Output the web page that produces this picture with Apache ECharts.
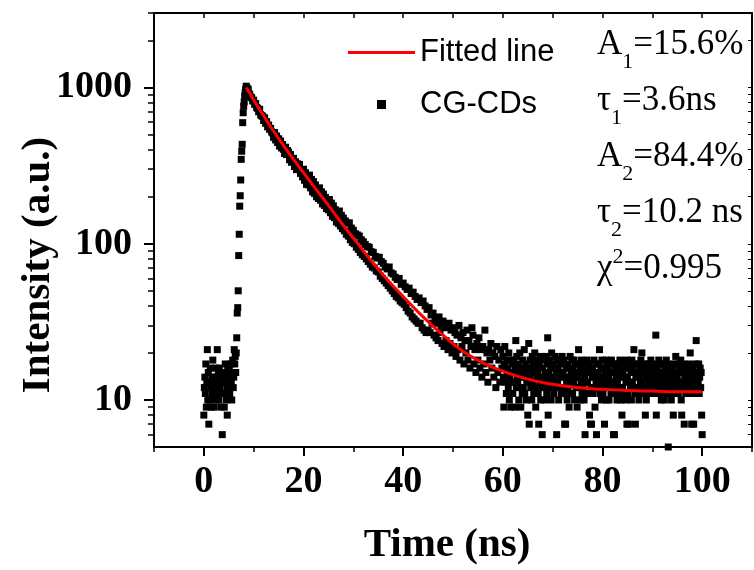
<!DOCTYPE html>
<html><head><meta charset="utf-8">
<script src="https://cdn.jsdelivr.net/npm/echarts@6/dist/echarts.min.js"></script>
<style>html,body{margin:0;padding:0;background:#fff}#c{width:754px;height:570px}</style>
</head><body><div id="c"></div>
<script>
// ---- tick labels ----
const xTickLabels = [0, 20, 40, 60, 80, 100];
const yTickLabels = [10, 100, 1000];
const yMinorTicks = [6, 7, 8, 9, 20, 30, 40, 50, 60, 70, 80, 90, 200, 300, 400, 500, 600, 700, 800, 900, 2000, 3000];
const yAllTicks = [6, 7, 8, 9, 10, 20, 30, 40, 50, 60, 70, 80, 90, 100, 200, 300, 400, 500, 600, 700, 800, 900, 1000, 2000];

// ---- measured decay (CG-CDs), counts per channel ----
const baselineStart = 0.0, baselineStep = 0.1;
const baselineCounts = [
  8, 12, 14, 11, 17, 9, 13, 21, 10, 15,
  7, 13, 10, 16, 12, 9, 14, 11, 18, 12,
  9, 14, 11, 13, 16, 10, 12, 21, 13, 15,
  10, 16, 12, 14, 9, 11, 13, 6, 11, 15,
  14, 9, 13, 17, 15, 10, 12, 8, 16, 11,
  12, 16, 11, 14, 17, 13, 10, 15, 18, 12
];
const riseStart = 6.0, riseStep = 0.1;
const riseCounts = [
  14, 21, 17, 19, 15, 20, 25, 36, 39, 50,
  84, 115, 174, 203, 256, 347, 391, 433, 596, 690,
  760, 810, 880, 930, 975, 1020, 1000, 985, 960, 975
];
const decayStart = 9.0, decayStep = 0.2;
const decayCounts = [
  915, 905, 870, 860, 820,
  830, 780, 790, 745, 735,
  700, 725, 670, 660, 655,
  615, 640, 590, 605, 560,
  575, 540, 548, 520, 512,
  480, 515, 462, 490, 445,
  470, 422, 455, 410, 432,
  402, 378, 415, 372, 395,
  385, 345, 372, 332, 350,
  352, 312, 335, 298, 325,
  305, 322, 282, 298, 268,
  300, 255, 285, 240, 272,
  238, 275, 228, 258, 215,
  250, 210, 238, 200, 226,
  195, 228, 190, 215, 180,
  208, 176, 198, 168, 190,
  165, 192, 158, 182, 150,
  175, 147, 165, 138, 158,
  135, 162, 130, 152, 125,
  146, 121, 140, 115, 136,
  112, 136, 106, 126, 102,
  122, 100, 116, 95, 114,
  92, 112, 88, 106, 85,
  103, 83, 99, 80, 96,
  77, 95, 74, 89, 71,
  88, 70, 83, 67, 81,
  66, 82, 62, 77, 60,
  75, 58, 71, 56, 69,
  54, 71, 52, 65, 50,
  64, 48, 61, 46, 59,
  45, 60, 43, 55, 42,
  56, 41, 53, 39, 51,
  37, 52, 36, 48, 34,
  49, 33, 46, 32, 44,
  31, 45, 31, 42, 29,
  43, 28, 40, 27, 38,
  28, 39, 27, 35, 31,
  36, 26, 33, 25, 31,
  24, 34, 27, 30, 23,
  32, 22, 29, 24, 30,
  21, 31, 23, 28, 20,
  29, 22, 27, 19, 26,
  21, 30, 18, 25, 22,
  27, 17, 24, 20, 28,
  18, 24, 16, 22, 29,
  26, 17, 21, 15, 23,
  18, 25, 16, 21, 14,
  22, 17, 28, 15, 20,
  13, 21, 18, 23, 16,
  20, 14, 19, 12, 22,
  15, 18, 13, 21, 16
];
const tailStart = 60.0, tailStep = 0.1;
const tailCounts = [
  19, 14, 9, 17, 22, 13, 16, 11, 18, 15,
  16, 12, 20, 10, 14, 18, 9, 15, 13, 17,
  11, 15, 18, 13, 9, 16, 24, 12, 19, 14,
  13, 17, 10, 15, 20, 12, 9, 16, 14, 11,
  18, 12, 15, 21, 11, 14, 17, 10, 13, 16,
  8, 15, 23, 7, 14, 18, 12, 16, 10, 19,
  13, 17, 11, 15, 20, 12, 9, 16, 14, 18,
  15, 11, 7, 17, 13, 19, 10, 14, 12, 6,
  16, 12, 18, 14, 10, 15, 13, 19, 11, 17,
  25, 8, 15, 12, 18, 14, 16, 10, 20, 13,
  14, 17, 11, 16, 13, 19, 12, 15, 6, 18,
  13, 16, 10, 18, 14, 12, 17, 11, 15, 19,
  12, 15, 18, 11, 7, 14, 7, 16, 13, 10,
  17, 12, 14, 9, 16, 19, 11, 15, 13, 18,
  11, 16, 13, 18, 10, 14, 17, 12, 15, 9,
  14, 17, 21, 12, 15, 10, 16, 13, 18, 11,
  15, 12, 17, 10, 14, 6, 13, 16, 11, 18,
  13, 16, 11, 15, 8, 17, 7, 12, 7, 14,
  16, 11, 14, 18, 12, 9, 15, 13, 6, 17,
  12, 15, 13, 17, 21, 11, 14, 16, 10, 18,
  14, 11, 16, 12, 7, 15, 13, 18, 10, 17,
  12, 16, 14, 10, 17, 13, 15, 11, 18, 12,
  15, 13, 6, 11, 6, 16, 12, 14, 17, 10,
  13, 17, 11, 15, 12, 18, 14, 10, 16, 8,
  12, 15, 17, 11, 14, 16, 10, 13, 18, 7,
  14, 11, 7, 16, 13, 17, 12, 15, 10, 18,
  13, 16, 12, 21, 15, 11, 7, 14, 17, 12,
  15, 12, 17, 10, 14, 16, 13, 18, 11, 20,
  13, 16, 11, 15, 12, 17, 8, 14, 10, 16,
  12, 15, 17, 13, 11, 16, 14, 18, 12, 15,
  14, 11, 16, 13, 17, 12, 15, 26, 8, 14,
  16, 12, 14, 18, 11, 15, 13, 17, 10, 14,
  13, 17, 12, 15, 10, 16, 14, 11, 18, 13,
  15, 12, 5, 14, 17, 11, 16, 13, 10, 15,
  12, 16, 8, 14, 11, 17, 13, 19, 15, 12,
  14, 17, 11, 15, 13, 16, 12, 18, 10, 8,
  13, 15, 12, 17, 7, 14, 16, 11, 15, 13,
  16, 12, 14, 11, 17, 13, 20, 15, 12, 7,
  14, 11, 16, 7, 13, 15, 12, 17, 24, 14,
  12, 15, 13, 17, 11, 14, 16, 12, 15, 8,
  6
];

// ---- fitted bi-exponential curve ----
const fitTimes  = [8.5, 9, 10, 11, 12, 14, 16, 18, 20, 22, 25, 28, 31, 34, 37, 40, 44, 48, 52, 56, 60, 65, 70, 75, 80, 85, 90, 95, 100];
const fitValues = [1000, 945, 835, 740, 660, 525, 425, 347, 285, 235, 176, 131, 99, 75, 58, 46, 34, 26, 20.5, 17.3, 15.3, 13.6, 12.6, 12.0, 11.7, 11.5, 11.4, 11.3, 11.3];

// ---- legend / annotation texts ----
const seriesNames = ['Fitted line', 'CG-CDs'];
const annotationLines = [
  '{n|A}{s|1}{n|=15.6%}',
  '{n|\u03c4}{s|1}{n|=3.6ns}',
  '{n|A}{s|2}{n|=84.4%}',
  '{n|\u03c4}{s|2}{n|=10.2 ns}',
  '{n|\u03c7}{p|2}{n|=0.995}'
];

function toPoints(start, step, counts) {
  return counts.map((c, i) => [Math.round((start + i * step) * 100) / 100, c]);
}
const scatterData = [].concat(
  toPoints(baselineStart, baselineStep, baselineCounts),
  toPoints(riseStart, riseStep, riseCounts),
  toPoints(decayStart, decayStep, decayCounts),
  toPoints(tailStart, tailStep, tailCounts)
);
const fitData = fitTimes.map((t, i) => [t, fitValues[i]]);

const SERIF = "'Liberation Serif','Times New Roman',Times,serif";
const SANS = "'Liberation Sans',Arial,Helvetica,sans-serif";
const black = '#000';
const red = '#ff0000';

const chart = echarts.init(document.getElementById('c'), null, {renderer: 'canvas'});
const logCommon = {type: 'log', logBase: 10, min: 5, max: 3000, splitLine: {show: false}, minorSplitLine: {show: false}};
const xCommon = {type: 'value', min: -10, max: 110, splitLine: {show: false}};

chart.setOption({
  animation: false,
  backgroundColor: '#fff',
  title: {
    text: annotationLines.join('\n'),
    left: 597, top: 17, padding: 0, itemGap: 0,
    textStyle: {
      fontFamily: SERIF, fontSize: 35, fontWeight: 'normal', color: black, lineHeight: 56,
      rich: {
        n: {fontFamily: SERIF, fontSize: 35, fontWeight: 'normal', lineHeight: 56, verticalAlign: 'middle', color: black},
        s: {fontFamily: SERIF, fontSize: 22, fontWeight: 'normal', lineHeight: 22, verticalAlign: 'bottom', color: black},
        p: {fontFamily: SERIF, fontSize: 22, fontWeight: 'normal', lineHeight: 22, verticalAlign: 'top', color: black, padding: [5, 0, 0, 0]}
      }
    }
  },
  grid: {left: 154, right: 2, top: 13, bottom: 123, containLabel: false, outerBoundsMode: 'none'},
  legend: {
    orient: 'vertical', left: 343, top: 32,
    itemWidth: 67, itemHeight: 9, itemGap: 21,
    symbolKeepAspect: true,
    selectedMode: false,
    data: [
      {name: seriesNames[0], icon: 'path://M0,0L67,0L67,3L0,3Z', itemStyle: {color: red}},
      {name: seriesNames[1], icon: 'path://M0,0L1,0L1,1L0,1Z', itemStyle: {color: black}}
    ],
    textStyle: {fontFamily: SANS, fontSize: 31, color: black}
  },
  xAxis: [
    Object.assign({}, xCommon, {
      position: 'bottom',
      axisLine: {show: true, onZero: false, lineStyle: {color: black, width: 2}},
      axisTick: {show: true, inside: false, length: 9, customValues: xTickLabels, lineStyle: {color: black, width: 2}},
      axisLabel: {show: true, customValues: xTickLabels, margin: 16, color: black, fontFamily: SERIF, fontWeight: 'bold', fontSize: 38},
      name: 'Time (ns)', nameLocation: 'middle', nameGap: 78, nameMoveOverlap: false,
      nameTextStyle: {color: black, fontFamily: SERIF, fontWeight: 'bold', fontSize: 41, padding: [0, 12, 0, 0]}
    }),
    Object.assign({}, xCommon, {
      position: 'bottom', interval: 10,
      axisLine: {show: false, onZero: false},
      axisTick: {show: true, inside: false, length: 5, lineStyle: {color: black, width: 1.5}},
      axisLabel: {show: false}
    }),
    Object.assign({}, xCommon, {
      position: 'top', interval: 10,
      axisLine: {show: true, onZero: false, lineStyle: {color: black, width: 2}},
      axisTick: {show: true, inside: true, length: 5, lineStyle: {color: black, width: 1.5}},
      axisLabel: {show: false}
    })
  ],
  yAxis: [
    Object.assign({}, logCommon, {
      position: 'left',
      axisLine: {show: true, onZero: false, lineStyle: {color: black, width: 2}},
      axisTick: {show: true, inside: false, length: 10, customValues: yTickLabels, lineStyle: {color: black, width: 2}},
      axisLabel: {show: true, customValues: yTickLabels, margin: 22, color: black, fontFamily: SERIF, fontWeight: 'bold', fontSize: 38,
        formatter: v => String(Math.round(v))},
      name: 'Intensity (a.u.)', nameLocation: 'middle', nameRotate: 90, nameGap: 95, nameMoveOverlap: false,
      nameTextStyle: {color: black, fontFamily: SERIF, fontWeight: 'bold', fontSize: 41, padding: [0, 70, 0, 0]}
    }),
    Object.assign({}, logCommon, {
      position: 'left',
      axisLine: {show: false, onZero: false},
      axisTick: {show: true, inside: false, length: 6, customValues: yMinorTicks, lineStyle: {color: black, width: 1.5}},
      axisLabel: {show: false}
    }),
    Object.assign({}, logCommon, {
      position: 'right',
      axisLine: {show: true, onZero: false, lineStyle: {color: black, width: 2}},
      axisTick: {show: true, inside: true, length: 4, customValues: yAllTicks, lineStyle: {color: black, width: 1}},
      axisLabel: {show: false}
    })
  ],
  series: [
    {
      name: seriesNames[1], type: 'scatter', xAxisIndex: 0, yAxisIndex: 0,
      symbol: 'rect', symbolSize: 7,
      itemStyle: {color: black, opacity: 1},
      data: scatterData, z: 2
    },
    {
      name: seriesNames[0], type: 'line', xAxisIndex: 0, yAxisIndex: 0,
      smooth: true, symbol: 'none', showSymbol: false,
      itemStyle: {color: red},
      lineStyle: {color: red, width: 3},
      data: fitData, z: 3
    }
  ]
});
</script>
</body></html>
